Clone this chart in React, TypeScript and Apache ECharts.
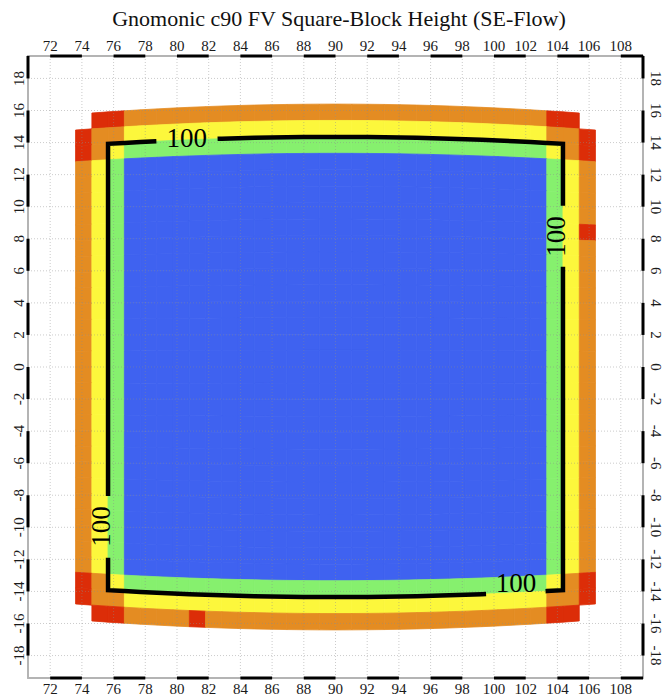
import React, { useEffect, useRef } from "react";
import * as echarts from "echarts";

const TITLE = "Gnomonic c90 FV Square-Block Height (SE-Flow)";

const X_RANGE = [70.6, 109.4];
const Y_RANGE = [-19.4, 19.4];
const X_TICKS = [72, 74, 76, 78, 80, 82, 84, 86, 88, 90, 92, 94, 96, 98, 100, 102, 104, 106, 108];
const Y_TICKS = [-18, -16, -14, -12, -10, -8, -6, -4, -2, 0, 2, 4, 6, 8, 10, 12, 14, 16, 18];

// black pieces of the checkered map frame
const FRAME_X_BLACK = [[72, 74], [76, 78], [80, 82], [84, 86], [88, 90], [92, 94], [96, 98], [100, 102], [104, 106], [108, 109.4]];
const FRAME_Y_BLACK = [[-18, -16], [-14, -12], [-10, -8], [-6, -4], [-2, 0], [2, 4], [6, 8], [10, 12], [14, 16], [18, 19.4]];

// gnomonic block: column edges (longitude) and row edges (latitude on the face's central meridian)
const FACE_CENTER_LON = 90;
const COL_EDGES = [73.6, 74.63, 75.65, 76.68, 77.7, 78.73, 79.75, 80.78, 81.8, 82.83, 83.85, 84.88, 85.9, 86.93, 87.95, 88.98, 90.0, 91.03, 92.05, 93.08, 94.1, 95.13, 96.15, 97.18, 98.2, 99.23, 100.25, 101.28, 102.3, 103.33, 104.35, 105.38, 106.4];
const ROW_EDGES = [-16.4, -15.38, -14.35, -13.33, -12.3, -11.28, -10.25, -9.23, -8.2, -7.18, -6.15, -5.13, -4.1, -3.08, -2.05, -1.03, 0, 1.03, 2.05, 3.08, 4.1, 5.13, 6.15, 7.18, 8.2, 9.23, 10.25, 11.28, 12.3, 13.33, 14.35, 15.38, 16.4];

// cell height class per cell, top row first ('.' = no cell)
const CELL_ROWS = [
  ".RROOOOOOOOOOOOOOOOOOOOOOOOOORR.",
  "ROOYYYYYYYYYYYYYYYYYYYYYYYYYYOOR",
  "ROYGGGGGGGGGGGGGGGGGGGGGGGGGGYOR",
  "OYGBBBBBBBBBBBBBBBBBBBBBBBBBBGYO",
  "OYGBBBBBBBBBBBBBBBBBBBBBBBBBBGYO",
  "OYGBBBBBBBBBBBBBBBBBBBBBBBBBBGYO",
  "OYGBBBBBBBBBBBBBBBBBBBBBBBBBBGYO",
  "OYGBBBBBBBBBBBBBBBBBBBBBBBBBBGYR",
  "OYGBBBBBBBBBBBBBBBBBBBBBBBBBBGYO",
  "OYGBBBBBBBBBBBBBBBBBBBBBBBBBBGYO",
  "OYGBBBBBBBBBBBBBBBBBBBBBBBBBBGYO",
  "OYGBBBBBBBBBBBBBBBBBBBBBBBBBBGYO",
  "OYGBBBBBBBBBBBBBBBBBBBBBBBBBBGYO",
  "OYGBBBBBBBBBBBBBBBBBBBBBBBBBBGYO",
  "OYGBBBBBBBBBBBBBBBBBBBBBBBBBBGYO",
  "OYGBBBBBBBBBBBBBBBBBBBBBBBBBBGYO",
  "OYGBBBBBBBBBBBBBBBBBBBBBBBBBBGYO",
  "OYGBBBBBBBBBBBBBBBBBBBBBBBBBBGYO",
  "OYGBBBBBBBBBBBBBBBBBBBBBBBBBBGYO",
  "OYGBBBBBBBBBBBBBBBBBBBBBBBBBBGYO",
  "OYGBBBBBBBBBBBBBBBBBBBBBBBBBBGYO",
  "OYGBBBBBBBBBBBBBBBBBBBBBBBBBBGYO",
  "OYGBBBBBBBBBBBBBBBBBBBBBBBBBBGYO",
  "OYGBBBBBBBBBBBBBBBBBBBBBBBBBBGYO",
  "OYGBBBBBBBBBBBBBBBBBBBBBBBBBBGYO",
  "OYGBBBBBBBBBBBBBBBBBBBBBBBBBBGYO",
  "OYGBBBBBBBBBBBBBBBBBBBBBBBBBBGYO",
  "OYGBBBBBBBBBBBBBBBBBBBBBBBBBBGYO",
  "OYGBBBBBBBBBBBBBBBBBBBBBBBBBBGYO",
  "ROYGGGGGGGGGGGGGGGGGGGGGGGGGGYOR",
  "ROOYYYYYYYYYYYYYYYYYYYYYYYYYYOOR",
  ".RROOOOROOOOOOOOOOOOOOOOOOOOORR.",
];

const LEVEL_COLORS: Record<string, string> = {
  B: "#3f62f0",
  G: "#86f06e",
  Y: "#fcf73c",
  O: "#e48c22",
  R: "#dc2d08",
};

// 100 contour: runs along column edges 2/30 and row edges 2/30
const CONTOUR_LEVEL = "100";
const CONTOUR_COLS = [2, 30];
const CONTOUR_ROWS = [2, 30];
const CONTOUR_GAPS = { top: [78.7, 82.56], right: [6.26, 10.06], bottom: [99.5, 103.25], left: [-11.9, -8.05] };
const CONTOUR_LABELS = [
  [80.62, 14.3, 0],
  [103.9, 8.14, 90],
  [101.38, -13.5, 0],
  [75.2, -9.95, 90],
];

const SERIF = '"Liberation Serif", "DejaVu Serif", serif';
const DEG = Math.PI / 180;

function latOn(latc: number, lon: number): number {
  return Math.atan(Math.tan(latc * DEG) * Math.cos((lon - FACE_CENTER_LON) * DEG)) / DEG;
}

function rowEdgeLine(latc: number, lonFrom: number, lonTo: number): number[][] {
  const pts: number[][] = [[lonFrom, latOn(latc, lonFrom)]];
  const lo = Math.min(lonFrom, lonTo);
  const hi = Math.max(lonFrom, lonTo);
  const inner = COL_EDGES.filter((e) => e > lo + 1e-6 && e < hi - 1e-6);
  if (lonFrom > lonTo) inner.reverse();
  inner.forEach((e) => pts.push([e, latOn(latc, e)]));
  pts.push([lonTo, latOn(latc, lonTo)]);
  return pts;
}

export default function App() {
  const ref = useRef<HTMLDivElement>(null);
  useEffect(() => {
    if (!ref.current) return;
    const chart = echarts.init(ref.current, undefined, { renderer: "svg" });

    const cells: { i: number; j: number; code: string }[] = [];
    CELL_ROWS.forEach((row, r) => {
      const j = CELL_ROWS.length - 1 - r;
      for (let i = 0; i < row.length; i++) {
        if (row[i] !== ".") cells.push({ i, j, code: row[i] });
      }
    });

    const L = COL_EDGES[CONTOUR_COLS[0]];
    const R = COL_EDGES[CONTOUR_COLS[1]];
    const B = ROW_EDGES[CONTOUR_ROWS[0]];
    const T = ROW_EDGES[CONTOUR_ROWS[1]];
    const g = CONTOUR_GAPS;
    const pieces = [
      [...rowEdgeLine(T, g.top[1], R), [R, g.right[1]]],
      [[R, g.right[0]], ...rowEdgeLine(B, R, g.bottom[1])],
      [...rowEdgeLine(B, g.bottom[0], L), [L, g.left[0]]],
      [[L, g.left[1]], ...rowEdgeLine(T, L, g.top[0])],
    ];

    const frameSegs: number[][] = [];
    FRAME_X_BLACK.forEach(([a, b]) => {
      frameSegs.push([0, a, b]);
      frameSegs.push([1, a, b]);
    });
    FRAME_Y_BLACK.forEach(([a, b]) => {
      frameSegs.push([2, a, b]);
      frameSegs.push([3, a, b]);
    });

    const gridData: number[][] = [...X_TICKS.map((v) => [0, v]), ...Y_TICKS.map((v) => [1, v])];

    const axisCommon = {
      type: "value",
      axisTick: { show: false },
      splitLine: { show: false },
      axisLine: { show: true, onZero: false, lineStyle: { color: "#b4b4b4", width: 2 } },
    };
    const labelCommon = { fontFamily: SERIF, fontSize: 15, color: "#1a1a1a" };

    const option: any = {
      animation: false,
      backgroundColor: "#ffffff",
      grid: { left: 28, right: 12, top: 56, bottom: 16, containLabel: false },
      graphic: [
        {
          type: "text",
          x: 339,
          y: 18,
          style: {
            text: TITLE,
            font: `22px ${SERIF}`,
            fill: "#111",
            align: "center",
            verticalAlign: "middle",
          },
        },
      ],
      xAxis: [
        { ...axisCommon, position: "bottom", min: X_RANGE[0], max: X_RANGE[1], axisLabel: { ...labelCommon, customValues: X_TICKS, margin: 3 } },
        { ...axisCommon, position: "top", min: X_RANGE[0], max: X_RANGE[1], axisLabel: { ...labelCommon, customValues: X_TICKS, margin: 3 } },
      ],
      yAxis: [
        { ...axisCommon, position: "left", min: Y_RANGE[0], max: Y_RANGE[1], axisLabel: { ...labelCommon, customValues: Y_TICKS, rotate: 90, margin: 2 } },
        { ...axisCommon, position: "right", min: Y_RANGE[0], max: Y_RANGE[1], axisLabel: { ...labelCommon, customValues: Y_TICKS, rotate: -90, margin: 5 } },
      ],
      series: [
        {
          type: "custom",
          name: "cells",
          xAxisIndex: 0,
          yAxisIndex: 0,
          z: 1,
          silent: true,
          data: cells.map((c) => [(COL_EDGES[c.i] + COL_EDGES[c.i + 1]) / 2, (ROW_EDGES[c.j] + ROW_EDGES[c.j + 1]) / 2]),
          renderItem: (params: any, api: any) => {
            const c = cells[params.dataIndex];
            const lonL = COL_EDGES[c.i];
            const lonR = COL_EDGES[c.i + 1];
            const b = ROW_EDGES[c.j];
            const t = ROW_EDGES[c.j + 1];
            const pts = [
              [lonL, latOn(b, lonL)],
              [lonR, latOn(b, lonR)],
              [lonR, latOn(t, lonR)],
              [lonL, latOn(t, lonL)],
            ].map((p) => api.coord(p));
            const color = LEVEL_COLORS[c.code];
            return { type: "polygon", shape: { points: pts }, style: { fill: color, stroke: color, lineWidth: 0.8 } };
          },
        },
        {
          type: "custom",
          name: "gridlines",
          xAxisIndex: 0,
          yAxisIndex: 0,
          z: 3,
          silent: true,
          data: gridData,
          renderItem: (params: any, api: any) => {
            const d = gridData[params.dataIndex];
            const v = d[1];
            const p0 = d[0] === 0 ? api.coord([v, Y_RANGE[0]]) : api.coord([X_RANGE[0], v]);
            const p1 = d[0] === 0 ? api.coord([v, Y_RANGE[1]]) : api.coord([X_RANGE[1], v]);
            return {
              type: "line",
              shape: { x1: p0[0], y1: p0[1], x2: p1[0], y2: p1[1] },
              style: { stroke: "#8c8c8c", lineWidth: 1, lineDash: [1, 2], opacity: 0.45 },
            };
          },
        },
        ...pieces.map((pts) => ({
          type: "line",
          name: "contour",
          xAxisIndex: 0,
          yAxisIndex: 0,
          z: 4,
          silent: true,
          showSymbol: false,
          symbol: "none",
          data: pts,
          lineStyle: { color: "#000", width: 4.5, join: "miter", cap: "butt" },
        })),
        {
          type: "custom",
          name: "contourLabels",
          xAxisIndex: 0,
          yAxisIndex: 0,
          z: 5,
          silent: true,
          data: CONTOUR_LABELS.map((l) => [l[0], l[1]]),
          renderItem: (params: any, api: any) => {
            const l = CONTOUR_LABELS[params.dataIndex];
            const p = api.coord([l[0], l[1]]);
            return {
              type: "text",
              x: p[0],
              y: p[1],
              rotation: l[2] * DEG,
              style: {
                text: CONTOUR_LEVEL,
                fontSize: 27,
                fontFamily: SERIF,
                fill: "#000",
                align: "center",
                verticalAlign: "middle",
              },
            };
          },
        },
        {
          type: "custom",
          name: "frame",
          xAxisIndex: 0,
          yAxisIndex: 0,
          z: 6,
          silent: true,
          data: frameSegs,
          renderItem: (params: any, api: any) => {
            const [side, a, b] = frameSegs[params.dataIndex];
            let x = 0, y = 0, w = 0, h = 0;
            if (side === 0 || side === 1) {
              const yv = side === 0 ? Y_RANGE[1] : Y_RANGE[0];
              const p0 = api.coord([a, yv]);
              const p1 = api.coord([b, yv]);
              x = p0[0];
              w = p1[0] - p0[0];
              y = p0[1] - 1.5;
              h = 3;
            } else {
              const xv = side === 2 ? X_RANGE[0] : X_RANGE[1];
              const p0 = api.coord([xv, a]);
              const p1 = api.coord([xv, b]);
              x = p0[0] - 1.5;
              w = 3;
              y = p1[1];
              h = p0[1] - p1[1];
            }
            return { type: "rect", shape: { x, y, width: w, height: h }, style: { fill: "#000" } };
          },
        },
      ],
    };

    chart.setOption(option);
    return () => chart.dispose();
  }, []);

  return <div ref={ref} style={{ position: "absolute", left: 0, top: 0, width: 663, height: 696 }} />;
}
